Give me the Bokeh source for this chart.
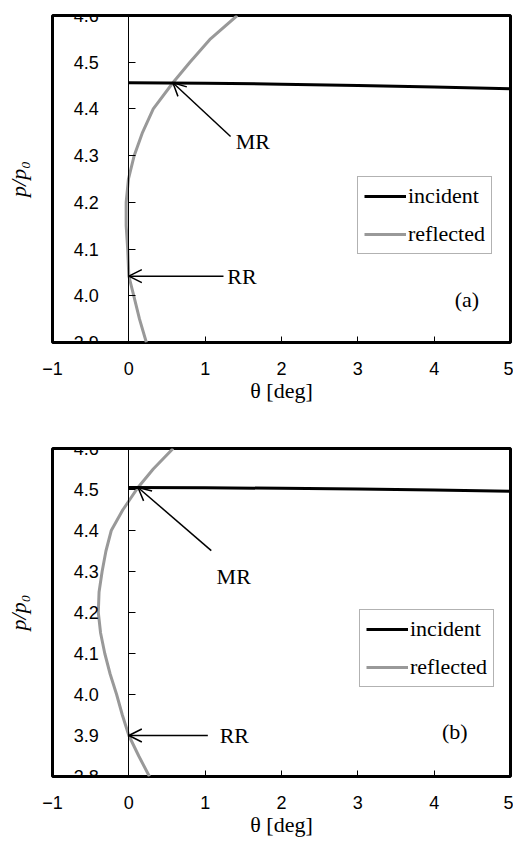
from bokeh.plotting import figure
from bokeh.layouts import column
from bokeh.models import (LinearAxis, FixedTicker, Range1d, Legend, LegendItem,
                          Arrow, OpenHead, Label, CustomJSTickFormatter, NumeralTickFormatter)
from bokeh.embed import file_html
from bokeh.resources import INLINE

# ---------------- data ----------------
x_ticks = [-1, 0, 1, 2, 3, 4, 5]

# panel (a)
a_y_ticks = [3.9, 4.0, 4.1, 4.2, 4.3, 4.4, 4.5, 4.6]
a_inc_theta = [0, 1, 2, 3, 4, 5]
a_inc_p = [4.456, 4.455, 4.453, 4.450, 4.447, 4.443]
a_ref_p = [3.90, 3.95, 4.00, 4.042, 4.10, 4.15, 4.20, 4.25, 4.30, 4.35, 4.40, 4.456, 4.50, 4.55, 4.60]
a_ref_theta = [0.23, 0.14, 0.065, 0.0, -0.015, -0.035, -0.035, -0.005, 0.07, 0.18, 0.32, 0.577, 0.80, 1.07, 1.42]
a_mr = (0.577, 4.456)   # MR point
a_rr = (0.0, 4.042)     # RR point

# panel (b)
b_y_ticks = [3.8, 3.9, 4.0, 4.1, 4.2, 4.3, 4.4, 4.5, 4.6]
b_inc_theta = [0, 1, 2, 3, 4, 5]
b_inc_p = [4.505, 4.504, 4.503, 4.501, 4.499, 4.496]
b_ref_p = [3.80, 3.85, 3.90, 3.95, 4.00, 4.05, 4.10, 4.15, 4.20, 4.25, 4.30, 4.35, 4.40, 4.45, 4.472, 4.505, 4.55, 4.60]
b_ref_theta = [0.27, 0.13, 0.0, -0.085, -0.16, -0.245, -0.315, -0.37, -0.40, -0.39, -0.35, -0.30, -0.23, -0.08, 0.0, 0.12, 0.32, 0.58]
b_mr = (0.12, 4.505)
b_rr = (0.0, 3.90)

SERIF = "Liberation Serif"
SANS = "Liberation Sans"


def make_panel(height, top, bottom, y_range, y_ticks, inc_t, inc_p, ref_t, ref_p,
               mr, mr_tail, mr_text, rr_tail, rr_text, rr, tag, tag_pos, legend_loc):
    p = figure(width=513, height=height, x_range=Range1d(-1, 5), y_range=Range1d(*y_range),
               output_backend="svg", toolbar_location=None,
               min_border_left=52, min_border_right=3, min_border_top=top, min_border_bottom=bottom)
    p.grid.visible = False
    p.outline_line_color = "black"
    p.outline_line_width = 3
    p.background_fill_color = "white"

    # x axis
    xa = p.xaxis[0]
    xa.ticker = FixedTicker(ticks=x_ticks)
    xa.formatter = CustomJSTickFormatter(code="return tick < 0 ? '\\u2212' + Math.abs(tick) : tick.toString();")
    xa.axis_line_color = None
    xa.major_tick_in = 6
    xa.major_tick_out = 0
    xa.major_tick_line_color = "black"
    xa.minor_tick_line_color = None
    xa.major_label_standoff = 19
    xa.major_label_text_font = SANS
    xa.major_label_text_font_size = "18px"
    xa.major_label_text_color = "black"
    xa.axis_label = "θ [deg]"
    xa.axis_label_text_font = SERIF
    xa.axis_label_text_font_style = "normal"
    xa.axis_label_text_font_size = "22px"
    xa.axis_label_text_color = "black"
    xa.axis_label_standoff = 0

    # y axis crossing at theta = 0
    ya = p.yaxis[0]
    ya.fixed_location = 0
    ya.ticker = FixedTicker(ticks=y_ticks)
    ya.formatter = NumeralTickFormatter(format="0.0")
    ya.axis_line_color = "black"
    ya.axis_line_width = 1
    ya.major_tick_in = 7
    ya.major_tick_out = 0
    ya.major_tick_line_color = "black"
    ya.minor_tick_line_color = None
    ya.major_label_standoff = 30
    ya.major_label_text_font = SANS
    ya.major_label_text_font_size = "18px"
    ya.major_label_text_color = "black"

    # y title holder on the frame edge
    yt = LinearAxis(ticker=FixedTicker(ticks=[]), axis_line_color=None,
                    major_tick_line_color=None, minor_tick_line_color=None,
                    major_tick_out=0, major_tick_in=0,
                    axis_label="p/p₀", axis_label_text_font=SERIF,
                    axis_label_text_font_style="italic", axis_label_text_font_size="22px",
                    axis_label_text_color="black", axis_label_standoff=22)
    p.add_layout(yt, "left")

    r_ref = p.line(ref_t, ref_p, line_color="#999999", line_width=3)
    r_inc = p.line(inc_t, inc_p, line_color="black", line_width=3)

    # annotations
    p.add_layout(Arrow(end=OpenHead(size=13, line_width=1.5, line_color="black"),
                       x_start=mr_tail[0], y_start=mr_tail[1], x_end=mr[0], y_end=mr[1],
                       line_color="black", line_width=1.5))
    p.add_layout(Arrow(end=OpenHead(size=13, line_width=1.5, line_color="black"),
                       x_start=rr_tail[0], y_start=rr_tail[1], x_end=rr[0], y_end=rr[1],
                       line_color="black", line_width=1.5))
    for (tx, ty), txt in [(mr_text, "MR"), (rr_text, "RR")]:
        p.add_layout(Label(x=tx, y=ty, text=txt, text_font=SERIF, text_font_size="22px",
                           text_baseline="middle", text_align="left", text_color="black"))
    p.add_layout(Label(x=tag_pos[0], y=tag_pos[1], text=tag, text_font=SERIF, text_font_size="22px",
                       text_baseline="middle", text_align="center", text_color="black"))

    leg = Legend(items=[LegendItem(label="incident", renderers=[r_inc]),
                        LegendItem(label="reflected", renderers=[r_ref])],
                 location=legend_loc, label_text_font=SERIF, label_text_font_size="22px",
                 label_text_color="black",
                 glyph_width=42, glyph_height=20, label_standoff=2, padding=6, spacing=12,
                 margin=0, border_line_color="#666666", border_line_width=1,
                 background_fill_color="white", background_fill_alpha=1.0)
    p.add_layout(leg)
    return p


pa = make_panel(420, 15, 78, (3.9, 4.6), a_y_ticks, a_inc_theta, a_inc_p, a_ref_theta, a_ref_p,
                a_mr, (1.333, 4.341), (1.40, 4.331), (1.24, a_rr[1]), (1.29, a_rr[1]), a_rr,
                "(a)", (4.43, 3.993), (305, 88))
pb = make_panel(423, 28, 67, (3.8, 4.6), b_y_ticks, b_inc_theta, b_inc_p, b_ref_theta, b_ref_p,
                b_mr, (1.08, 4.351), (1.15, 4.288), (1.035, b_rr[1]), (1.19, b_rr[1]), b_rr,
                "(b)", (4.27, 3.910), (307, 89))

layout = column(pa, pb, spacing=0)
open("out.html", "w").write(file_html(layout, INLINE))
